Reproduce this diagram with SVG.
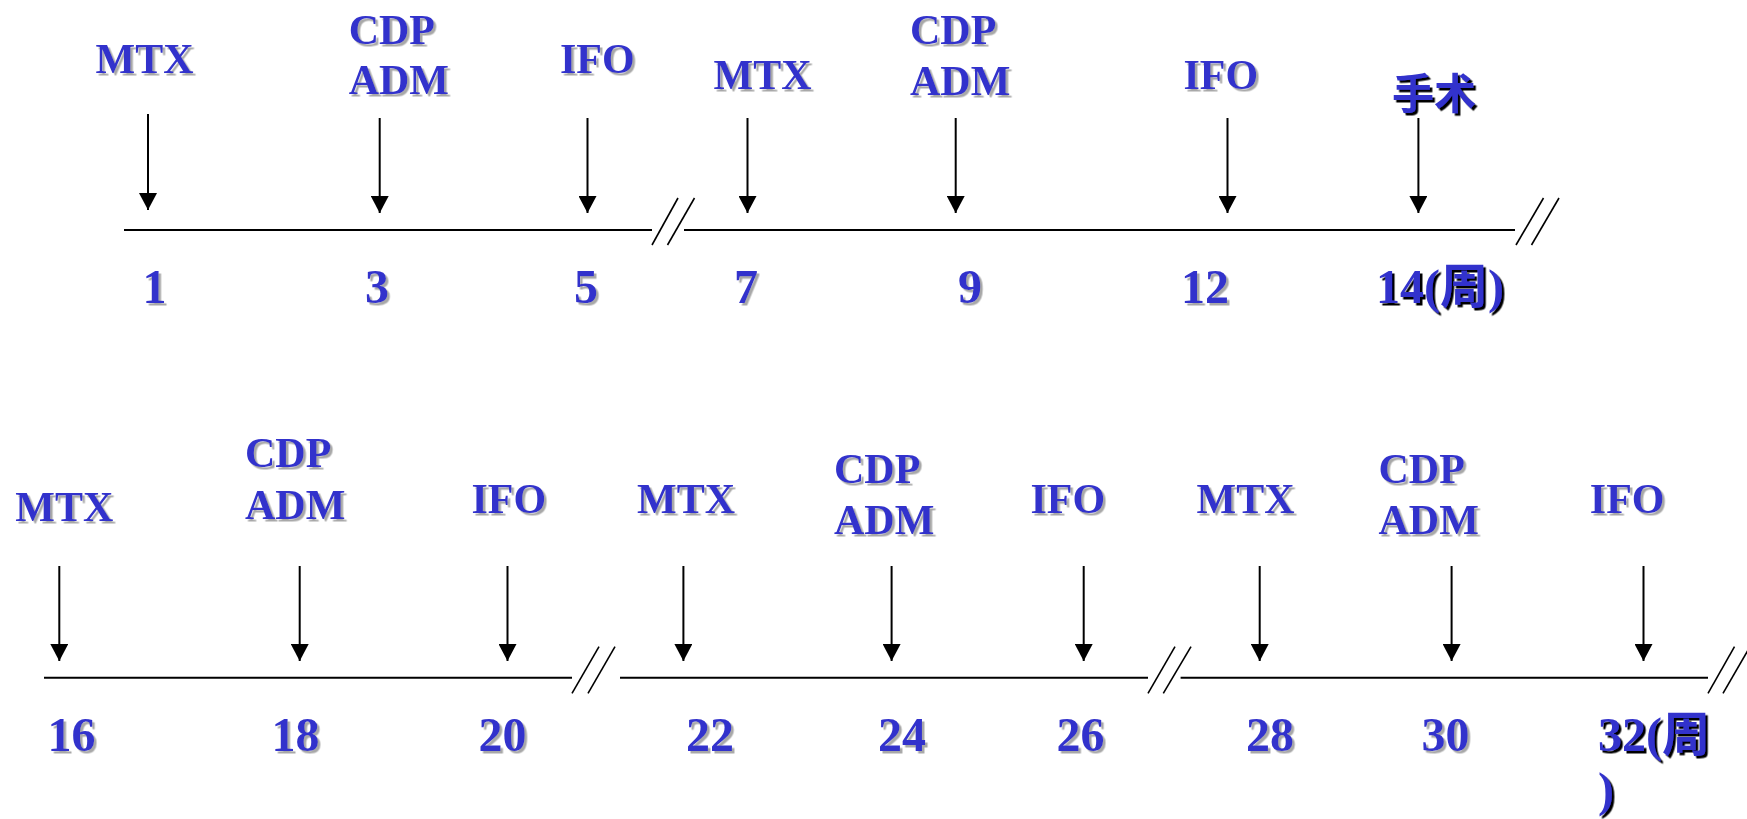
<svg xmlns="http://www.w3.org/2000/svg" width="1747" height="819" viewBox="0 0 1747 819">
<style>
.lbl{font-family:"Liberation Serif","Times New Roman",serif;font-weight:bold;font-size:42px;fill:#3333CC}
.num{font-family:"Liberation Serif","Times New Roman",serif;font-weight:bold;font-size:48px;fill:#3333CC}
.cjk{font-family:"Liberation Serif","Noto Sans CJK SC",serif;font-weight:bold;fill:#3333CC}
.sh{filter:url(#shGray)}
.shd{filter:url(#shDark)}
.axis{stroke:#000;stroke-width:2;fill:none}
.brk{stroke:#000;stroke-width:1.6;fill:none}
.arr{stroke:#000;stroke-width:2;fill:none;marker-end:url(#ah)}
</style>
<defs>
<filter id="shGray" x="-10%" y="-20%" width="130%" height="150%">
<feDropShadow dx="2.5" dy="2.5" stdDeviation="0.4" flood-color="#a8a8a8" flood-opacity="1"/>
</filter>
<filter id="shDark" x="-10%" y="-20%" width="130%" height="150%">
<feDropShadow dx="2.5" dy="2.5" stdDeviation="0.3" flood-color="#000000" flood-opacity="1"/>
</filter>
<marker id="ah" markerUnits="userSpaceOnUse" markerWidth="18" markerHeight="18" viewBox="0 0 16 17" refX="16" refY="8.5" orient="auto">
<path d="M0,0 L16,8.5 L0,17 z" fill="#000"/>
</marker>
</defs>
<rect width="1747" height="819" fill="#fff"/>

<g id="axes">
<line class="axis" x1="124" y1="230" x2="652" y2="230"/>
<line class="brk" x1="652" y1="245" x2="678" y2="198"/>
<line class="brk" x1="667.5" y1="245" x2="694.5" y2="198"/>
<line class="axis" x1="684" y1="230" x2="1515" y2="230"/>
<line class="brk" x1="1516" y1="245" x2="1543.5" y2="198"/>
<line class="brk" x1="1531.5" y1="245" x2="1559" y2="198"/>

<line class="axis" x1="44" y1="677.7" x2="572" y2="677.7"/>
<line class="brk" x1="572" y1="693.3" x2="599" y2="646.7"/>
<line class="brk" x1="588" y1="693.3" x2="615" y2="646.7"/>
<line class="axis" x1="620" y1="677.7" x2="1148" y2="677.7"/>
<line class="brk" x1="1148" y1="693.3" x2="1175" y2="646.7"/>
<line class="brk" x1="1163.3" y1="693.3" x2="1191" y2="646.7"/>
<line class="axis" x1="1180.6" y1="677.7" x2="1708" y2="677.7"/>
<line class="brk" x1="1708" y1="693.3" x2="1734.5" y2="646.7"/>
<line class="brk" x1="1723" y1="693.3" x2="1750" y2="646.7"/>
</g>

<g id="connectors">
<line class="arr" x1="148" y1="114" x2="148" y2="210"/>
<line class="arr" x1="379.7" y1="118" x2="379.7" y2="213"/>
<line class="arr" x1="587.5" y1="118" x2="587.5" y2="213"/>
<line class="arr" x1="747.5" y1="118" x2="747.5" y2="213"/>
<line class="arr" x1="955.7" y1="118" x2="955.7" y2="213"/>
<line class="arr" x1="1227.5" y1="118" x2="1227.5" y2="213"/>
<line class="arr" x1="1418.4" y1="118" x2="1418.4" y2="213"/>

<line class="arr" x1="59.3" y1="566" x2="59.3" y2="661"/>
<line class="arr" x1="299.7" y1="566" x2="299.7" y2="661"/>
<line class="arr" x1="507.5" y1="566" x2="507.5" y2="661"/>
<line class="arr" x1="683.4" y1="566" x2="683.4" y2="661"/>
<line class="arr" x1="891.6" y1="566" x2="891.6" y2="661"/>
<line class="arr" x1="1083.7" y1="566" x2="1083.7" y2="661"/>
<line class="arr" x1="1259.7" y1="566" x2="1259.7" y2="661"/>
<line class="arr" x1="1451.6" y1="566" x2="1451.6" y2="661"/>
<line class="arr" x1="1643.5" y1="566" x2="1643.5" y2="661"/>
</g>

<g id="node-w1" class="sh"><text class="lbl" x="95.5" y="72.7">MTX</text><text class="num" x="142.5" y="302.5">1</text></g>
<g id="node-w3" class="sh"><text class="lbl" x="348.7" y="43.5">CDP</text><text class="lbl" x="348.7" y="94.3">ADM</text><text class="num" x="365" y="302.5">3</text></g>
<g id="node-w5" class="sh"><text class="lbl" x="560" y="72.7">IFO</text><text class="num" x="574" y="302.5">5</text></g>
<g id="node-w7" class="sh"><text class="lbl" x="713.5" y="89.3">MTX</text><text class="num" x="734" y="302.5">7</text></g>
<g id="node-w9" class="sh"><text class="lbl" x="910" y="44.3">CDP</text><text class="lbl" x="910" y="95">ADM</text><text class="num" x="958" y="302.5">9</text></g>
<g id="node-w12" class="sh"><text class="lbl" x="1183.4" y="89.3">IFO</text><text class="num" x="1181" y="302.5">12</text></g>
<g id="node-w14" class="shd"><text class="cjk" x="1392" y="109" font-size="42">手术</text><text class="num" x="1376" y="302.5">14(<tspan class="cjk" font-size="48">周</tspan>)</text></g>

<g id="node-w16" class="sh"><text class="lbl" x="15.3" y="520.7">MTX</text><text class="num" x="47.5" y="750.5">16</text></g>
<g id="node-w18" class="sh"><text class="lbl" x="245" y="466.7">CDP</text><text class="lbl" x="245" y="519">ADM</text><text class="num" x="271.5" y="750.5">18</text></g>
<g id="node-w20" class="sh"><text class="lbl" x="471.5" y="513.3">IFO</text><text class="num" x="478.5" y="750.5">20</text></g>
<g id="node-w22" class="sh"><text class="lbl" x="637" y="513.3">MTX</text><text class="num" x="686" y="750.5">22</text></g>
<g id="node-w24" class="sh"><text class="lbl" x="834" y="483.3">CDP</text><text class="lbl" x="834" y="534.3">ADM</text><text class="num" x="878" y="750.5">24</text></g>
<g id="node-w26" class="sh"><text class="lbl" x="1030.5" y="513.3">IFO</text><text class="num" x="1056.5" y="750.5">26</text></g>
<g id="node-w28" class="sh"><text class="lbl" x="1196.5" y="513.3">MTX</text><text class="num" x="1246" y="750.5">28</text></g>
<g id="node-w30" class="sh"><text class="lbl" x="1378.5" y="483.3">CDP</text><text class="lbl" x="1378.5" y="534.3">ADM</text><text class="num" x="1421.5" y="750.5">30</text></g>
<g id="node-w32" class="sh"><text class="lbl" x="1589.8" y="513.3">IFO</text></g>
<g id="node-w32-num" class="shd"><text class="num" x="1598" y="750.5">32(<tspan class="cjk" font-size="48">周</tspan></text><text class="num" x="1598" y="806">)</text></g>
</svg>
